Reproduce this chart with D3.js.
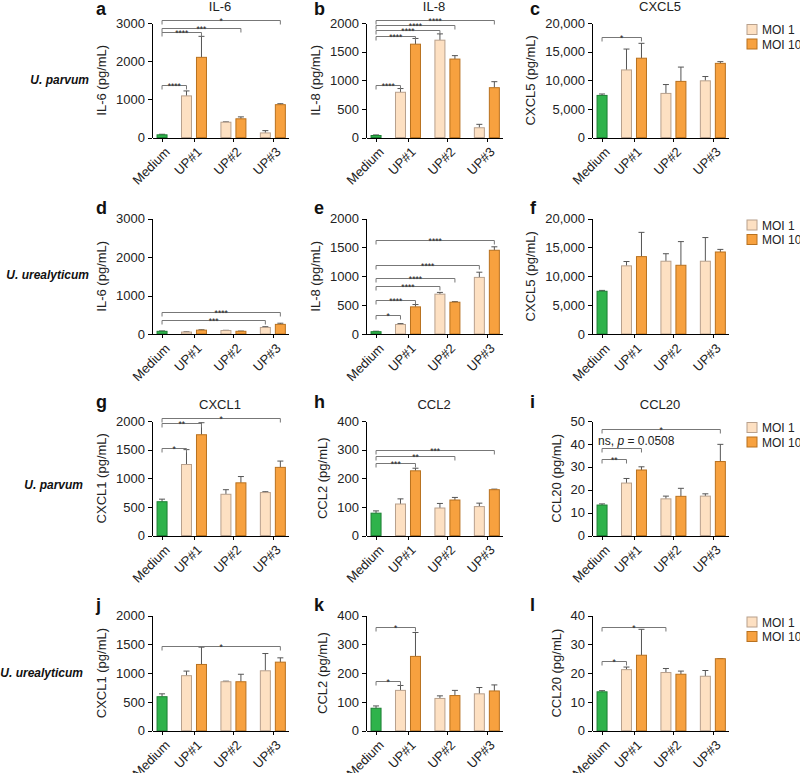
<!DOCTYPE html>
<html>
<head>
<meta charset="utf-8">
<title>Cytokine release panels</title>
<script src="https://cdn.jsdelivr.net/npm/d3@7"></script>
<style>
  body { margin: 0; background: #fff; }
  svg { font-family: "Liberation Sans", Arial, Helvetica, sans-serif; }
  .axis path, .axis line { stroke: #000; stroke-width: 1; shape-rendering: crispEdges; }
  .axis text { font-size: 13px; fill: #222; }
  .sig path { fill: none; stroke: #777; stroke-width: 1; }
</style>
</head>
<body>
<script>
// categories and series
var categories = ["Medium", "UP#1", "UP#2", "UP#3"];
var seriesNames = ["MOI 1", "MOI 10"];
var strains = ["U. parvum", "U. urealyticum", "U. parvum", "U. urealyticum"];

// bar order in every panel: Medium, UP#1 MOI 1, UP#1 MOI 10, UP#2 MOI 1, UP#2 MOI 10, UP#3 MOI 1, UP#3 MOI 10
// significance: [bar from, bar to, bracket height (data units), label]

// a  IL-6, U. parvum
var aMean = [70, 1090, 2100, 400, 490, 120, 860];
var aErr  = [15, 130, 550, 10, 50, 60, 25];
var aSig  = [[0, 1, 1370, "****"], [0, 2, 2755, "****"], [0, 4, 2876, "***"], [0, 6, 3071, "*"]];
// b  IL-8, U. parvum
var bMean = [35, 790, 1630, 1700, 1370, 170, 870];
var bErr  = [10, 65, 100, 110, 60, 60, 105];
var bSig  = [[0, 1, 912, "****"], [0, 2, 1777, "****"], [0, 3, 1871, "****"], [0, 4, 1965, "****"], [0, 6, 2058, "****"]];
// c  CXCL5, U. parvum
var cMean = [7350, 11800, 13850, 7700, 9800, 9900, 12950];
var cErr  = [250, 3650, 2600, 1550, 2500, 750, 300];
var cSig  = [[0, 2, 17580, "*"]];
// d  IL-6, U. urealyticum
var dMean = [70, 50, 100, 90, 70, 170, 250];
var dErr  = [10, 8, 10, 6, 6, 20, 30];
var dSig  = [[0, 5, 363, "***"], [0, 6, 578, "****"]];
// e  IL-8, U. urealyticum
var eMean = [40, 165, 470, 690, 550, 980, 1450];
var eErr  = [8, 15, 40, 30, 10, 90, 60];
var eSig  = [[0, 1, 328, "*"], [0, 2, 588, "****"], [0, 3, 835, "****"], [0, 4, 973, "****"], [0, 5, 1193, "****"], [0, 6, 1625, "****"]];
// f  CXCL5, U. urealyticum
var fMean = [7400, 11800, 13400, 12600, 11900, 12600, 14200];
var fErr  = [150, 750, 4200, 1300, 4100, 4100, 450];
var fSig  = [];
// g  CXCL1, U. parvum
var gMean = [590, 1240, 1760, 720, 920, 750, 1190];
var gErr  = [45, 260, 210, 80, 110, 15, 110];
var gSig  = [[0, 1, 1524, "*"], [0, 2, 1960, "**"], [0, 6, 2047, "*"]];
// h  CCL2, U. parvum
var hMean = [78, 110, 226, 96, 124, 101, 160];
var hErr  = [8, 18, 9, 16, 9, 12, 2];
var hSig  = [[0, 2, 253, "***"], [0, 4, 276, "**"], [0, 6, 299, "***"]];
// i  CCL20, U. parvum
var iMean = [13.3, 22.9, 28.6, 16, 17.1, 17.2, 32.3];
var iErr  = [0.5, 2, 1.4, 1.2, 3.5, 1, 7.5];
var iSig  = [[0, 1, 33.6, "**"], [0, 2, 38, "ns"], [0, 6, 46.4, "*"]];
// j  CXCL1, U. urealyticum
var jMean = [590, 955, 1150, 850, 850, 1040, 1190];
var jErr  = [50, 80, 300, 10, 130, 300, 75];
var jSig  = [[0, 6, 1476, "*"]];
// k  CCL2, U. urealyticum
var kMean = [78, 140, 258, 112, 122, 128, 138];
var kErr  = [8, 17, 83, 9, 18, 22, 21];
var kSig  = [[0, 1, 174, "*"], [0, 2, 360, "*"]];
// l  CCL20, U. urealyticum
var lMean = [13.5, 21.2, 26.2, 20.2, 19.6, 18.9, 25];
var lErr  = [0.4, 0.9, 9, 1.4, 1.1, 2, 0];
var lSig  = [[0, 1, 24.1, "*"], [0, 3, 36, "*"]];

// y axis ticks per analyte
var ticks3000 = [0, 1000, 2000, 3000];
var ticks2000 = [0, 500, 1000, 1500, 2000];
var ticks20k  = [0, 5000, 10000, 15000, 20000];
var ticks400  = [0, 100, 200, 300, 400];
var ticks50   = [0, 10, 20, 30, 40, 50];
var ticks40   = [0, 10, 20, 30, 40];

var panels = [
  {id: "a", row: 0, col: 0, title: "IL-6",  ylab: "IL-6 (pg/mL)",  ticks: ticks3000, mean: aMean, err: aErr, sig: aSig},
  {id: "b", row: 0, col: 1, title: "IL-8",  ylab: "IL-8 (pg/mL)",  ticks: ticks2000, mean: bMean, err: bErr, sig: bSig},
  {id: "c", row: 0, col: 2, title: "CXCL5", ylab: "CXCL5 (pg/mL)", ticks: ticks20k,  mean: cMean, err: cErr, sig: cSig, comma: true},
  {id: "d", row: 1, col: 0, title: "",      ylab: "IL-6 (pg/mL)",  ticks: ticks3000, mean: dMean, err: dErr, sig: dSig},
  {id: "e", row: 1, col: 1, title: "",      ylab: "IL-8 (pg/mL)",  ticks: ticks2000, mean: eMean, err: eErr, sig: eSig},
  {id: "f", row: 1, col: 2, title: "",      ylab: "CXCL5 (pg/mL)", ticks: ticks20k,  mean: fMean, err: fErr, sig: fSig, comma: true},
  {id: "g", row: 2, col: 0, title: "CXCL1", ylab: "CXCL1 (pg/mL)", ticks: ticks2000, mean: gMean, err: gErr, sig: gSig},
  {id: "h", row: 2, col: 1, title: "CCL2",  ylab: "CCL2 (pg/mL)",  ticks: ticks400,  mean: hMean, err: hErr, sig: hSig},
  {id: "i", row: 2, col: 2, title: "CCL20", ylab: "CCL20 (pg/mL)", ticks: ticks50,   mean: iMean, err: iErr, sig: iSig},
  {id: "j", row: 3, col: 0, title: "",      ylab: "CXCL1 (pg/mL)", ticks: ticks2000, mean: jMean, err: jErr, sig: jSig},
  {id: "k", row: 3, col: 1, title: "",      ylab: "CCL2 (pg/mL)",  ticks: ticks400,  mean: kMean, err: kErr, sig: kSig},
  {id: "l", row: 3, col: 2, title: "",      ylab: "CCL20 (pg/mL)", ticks: ticks40,   mean: lMean, err: lErr, sig: lSig}
];

// layout
var colX = [152, 366, 592];
var rowY = [[23, 137.5], [218.5, 334], [421, 535.5], [615.5, 730.7]];
var plotW = 136;
var letterX = [96, 314, 530];
var letterY = [15, 214, 408, 611];
var strainRight = [89, 89, 83, 83];
var strainY = [84, 279, 489, 677];

var fills   = {med: "#2fb34b", m1: "#fde0c2", m10: "#f7a13f"};
var strokes = {med: "#1c7f33", m1: "#b8a08c", m10: "#b8711f"};

// slot of bar i on the x scale (Medium alone, then pairs)
function slotOf(i) {
  if (i === 0) return 0;
  var grp = Math.floor((i - 1) / 2), s = (i - 1) % 2;
  return 1.63 + grp * 2.63 + s;
}
var tickSlots = [0, slotOf(1) + 0.5, slotOf(3) + 0.5, slotOf(5) + 0.5];

var svg = d3.select("body").append("svg")
  .attr("width", 800)
  .attr("height", 773);

panels.forEach(function(p) {
  var x0 = colX[p.col], yr = rowY[p.row];
  var g = svg.append("g").attr("class", "panel-" + p.id);

  var x = d3.scaleLinear().domain([-0.67, 8.4]).range([x0, x0 + plotW]);
  var y = d3.scaleLinear().domain([0, d3.max(p.ticks)]).range([yr[1], yr[0]]);
  var bw = (x(1) - x(0)) * 0.667;

  var bars = p.mean.map(function(v, i) {
    return {v: v, e: p.err[i], s: slotOf(i), kind: i === 0 ? "med" : ((i % 2 === 1) ? "m1" : "m10")};
  });

  // error bars (upper only)
  var eb = g.append("g").attr("stroke", "#555").attr("stroke-width", 1);
  eb.selectAll("line.v").data(bars).enter().append("line")
    .attr("x1", function(d) { return x(d.s); })
    .attr("x2", function(d) { return x(d.s); })
    .attr("y1", function(d) { return y(d.v); })
    .attr("y2", function(d) { return y(d.v + d.e); });
  eb.selectAll("line.c").data(bars).enter().append("line")
    .attr("x1", function(d) { return x(d.s) - 3; })
    .attr("x2", function(d) { return x(d.s) + 3; })
    .attr("y1", function(d) { return y(d.v + d.e); })
    .attr("y2", function(d) { return y(d.v + d.e); });

  // bars
  g.selectAll("rect.bar").data(bars).enter().append("rect")
    .attr("class", "bar")
    .attr("x", function(d) { return x(d.s) - bw / 2; })
    .attr("y", function(d) { return y(d.v); })
    .attr("width", bw)
    .attr("height", function(d) { return y(0) - y(d.v); })
    .attr("fill", function(d) { return fills[d.kind]; })
    .attr("stroke", function(d) { return strokes[d.kind]; })
    .attr("stroke-width", 1);

  // y axis
  var fmt = p.comma ? d3.format(",") : d3.format("d");
  var yAxis = g.append("g").attr("class", "axis")
    .attr("transform", "translate(" + x0 + ",0)")
    .call(d3.axisLeft(y).tickValues(p.ticks).tickFormat(fmt).tickSize(4).tickSizeOuter(0).tickPadding(3));

  // x axis
  var xAxis = g.append("g").attr("class", "axis")
    .attr("transform", "translate(0," + y(0) + ")")
    .call(d3.axisBottom(x).tickValues(tickSlots)
      .tickFormat(function(d, i) { return categories[i]; })
      .tickSize(4).tickSizeOuter(0));
  xAxis.selectAll("text")
    .attr("x", 0).attr("y", 0).attr("dy", "0.35em")
    .attr("text-anchor", "end")
    .attr("transform", "translate(5,12) rotate(-45)");

  // y axis title
  var bb = yAxis.node().getBBox();
  g.append("text")
    .attr("transform", "translate(" + (x0 + bb.x - 10) + "," + ((yr[0] + yr[1]) / 2) + ") rotate(-90)")
    .attr("text-anchor", "middle")
    .attr("font-size", 13)
    .attr("fill", "#222")
    .text(p.ylab);

  // significance brackets
  var sg = g.append("g").attr("class", "sig");
  p.sig.forEach(function(s) {
    var x1 = x(slotOf(s[0])), x2 = x(slotOf(s[1])), yy = Math.round(y(s[2])) + 0.5;
    sg.append("path").attr("d", "M" + x1 + "," + (yy + 4) + "V" + yy + "H" + x2 + "V" + (yy + 4));
    if (s[3] === "ns") {
      var t = sg.append("text").attr("x", x1 - 4).attr("y", yy - 4)
        .attr("font-size", 12).attr("fill", "#222");
      t.append("tspan").text("ns, ");
      t.append("tspan").attr("font-style", "italic").text("p");
      t.append("tspan").text(" = 0.0508");
    } else {
      sg.append("text").attr("x", (x1 + x2) / 2).attr("y", yy + 3)
        .attr("text-anchor", "middle").attr("font-size", 8.5).attr("fill", "#222")
        .text(s[3]);
    }
  });

  // panel title and letter
  if (p.title) {
    g.append("text").attr("x", x0 + plotW / 2).attr("y", yr[0] - 12)
      .attr("text-anchor", "middle").attr("font-size", 13).attr("fill", "#222")
      .text(p.title);
  }
  g.append("text").attr("x", letterX[p.col]).attr("y", letterY[p.row])
    .attr("font-size", 18).attr("font-weight", "bold").attr("fill", "#111")
    .text(p.id);

  // legend in the right column
  if (p.col === 2) {
    var lg = g.append("g").attr("transform", "translate(747," + (yr[0] + 1.5) + ")");
    seriesNames.forEach(function(name, k) {
      var kind = k === 0 ? "m1" : "m10";
      lg.append("rect").attr("x", 0).attr("y", k * 14.5).attr("width", 10).attr("height", 10)
        .attr("fill", fills[kind]).attr("stroke", strokes[kind]).attr("stroke-width", 1);
      lg.append("text").attr("x", 15).attr("y", k * 14.5 + 9.5)
        .attr("font-size", 12).attr("fill", "#222").text(name);
    });
  }
});

// strain labels
strains.forEach(function(s, r) {
  svg.append("text")
    .attr("x", strainRight[r]).attr("y", strainY[r])
    .attr("text-anchor", "end")
    .attr("font-size", 12).attr("font-weight", "bold").attr("font-style", "italic")
    .attr("fill", "#111")
    .text(s);
});
</script>
</body>
</html>
